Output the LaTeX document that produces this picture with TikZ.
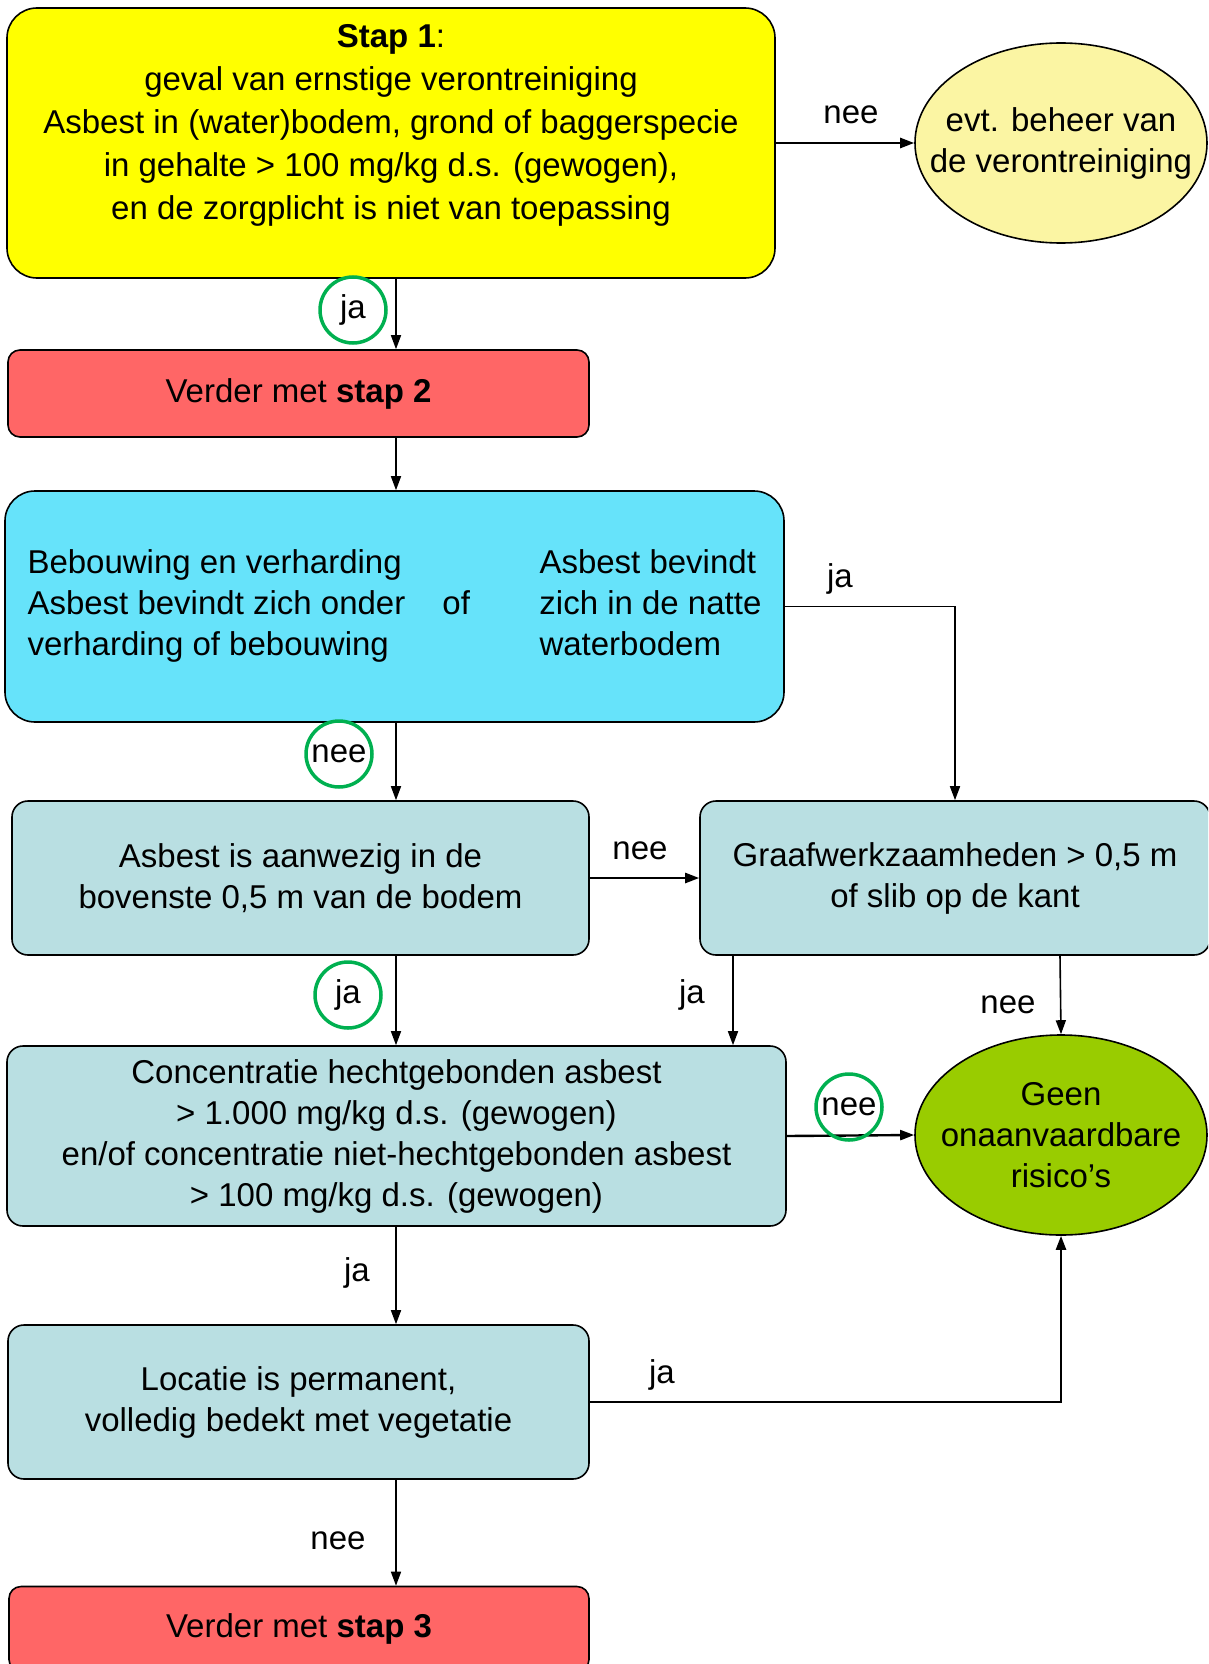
\documentclass[tikz,border=0pt]{standalone}
\usepackage{fontspec}
\setmainfont{Liberation Sans}
\usetikzlibrary{shapes.geometric,arrows.meta}
\definecolor{stapgeel}{HTML}{FFFF00}
\definecolor{beheergeel}{HTML}{FBF5A3}
\definecolor{staprood}{HTML}{FF6666}
\definecolor{bebouwblauw}{HTML}{66E3FA}
\definecolor{vraagblauw}{HTML}{B9DFE2}
\definecolor{geengroen}{HTML}{99CC00}
\definecolor{ringgroen}{HTML}{00B050}

\begin{document}
\begin{tikzpicture}[x=1pt, y=-1pt,
    every node/.style={font=\fontsize{33}{41}\selectfont},
    box/.style={draw, line width=1.6pt, rounded corners=16pt, align=center, inner sep=0pt},
    ovaal/.style={draw, ellipse, line width=1.6pt, inner sep=0pt, minimum width=292pt, minimum height=200pt},
    ring/.style={draw=ringgroen, circle, line width=3.5pt, minimum size=66pt, inner sep=0pt},
    pijl/.style={line width=1.6pt, -{Triangle[length=14pt,width=10pt]}},
    ]
    \clip (0,0) rectangle (1208,1664);

    % Stap 1 en beheer
    \node[box, fill=stapgeel, rounded corners=30pt, minimum width=768pt, minimum height=270pt,
        font=\fontsize{33}{43}\selectfont] (stap1) at (391,143)
        {\textbf{Stap 1}:\\geval van ernstige verontreiniging\\Asbest in (water)bodem, grond of baggerspecie\\in gehalte > 100 mg/kg d.s. (gewogen),\\en de zorgplicht is niet van toepassing\\~};
    \node[ovaal, fill=beheergeel, label={[align=center]center:evt. beheer van\\de verontreiniging}] (beheer) at (1061,143) {};

    \node[box, fill=staprood, rounded corners=12pt, minimum width=581pt, minimum height=87pt] (stap2) at (298.5,393.5) {Verder met \textbf{stap 2}};

    % Vragen
    \node[box, fill=bebouwblauw, rounded corners=30pt, minimum width=779pt, minimum height=231pt] (bebouw) at (394.5,606.5) {%
        \begin{tabular}{@{}p{415pt}@{}p{97pt}@{}l@{}}
        Bebouwing en verharding & & Asbest bevindt\\
        Asbest bevindt zich onder & of & zich in de natte\\
        verharding of bebouwing & & waterbodem
        \end{tabular}};
    \node[box, fill=vraagblauw, minimum width=577pt, minimum height=154pt] (bovenste) at (300.5,878) {Asbest is aanwezig in de\\bovenste 0,5 m van de bodem};
    \node[box, fill=vraagblauw, minimum width=510pt, minimum height=154pt] (graaf) at (955,878) {Graafwerkzaamheden > 0,5 m\\of slib op de kant};
    \node[box, fill=vraagblauw, minimum width=779pt, minimum height=180pt] (conc) at (396.5,1136) {Concentratie hechtgebonden asbest\\> 1.000 mg/kg d.s. (gewogen)\\en/of concentratie niet-hechtgebonden asbest\\> 100 mg/kg d.s. (gewogen)};
    \node[ovaal, fill=geengroen, label={[align=center]center:Geen\\onaanvaardbare\\risico’s}] (geen) at (1061,1135) {};
    \node[box, fill=vraagblauw, minimum width=581pt, minimum height=154pt] (locatie) at (298.5,1402) {Locatie is permanent,\\volledig bedekt met vegetatie};

    \node[box, fill=staprood, rounded corners=12pt, minimum width=580pt, minimum height=85pt] (stap3) at (299,1629) {Verder met \textbf{stap 3}};

    % Verbindingen
    \coordinate (spil) at (396,0);
    \coordinate (graafja) at (733,0);
    \coordinate (graafnee) at (1060,0);
    \draw[pijl, line width=2.4pt] (stap1.east) -- (beheer.west);
    \draw[pijl] (stap1.south -| spil) -- (stap2.north -| spil);
    \draw[pijl] (stap2.south -| spil) -- (bebouw.north -| spil);
    \draw[pijl] (bebouw.east) -| (graaf.north);
    \draw[pijl] (bebouw.south -| spil) -- (bovenste.north -| spil);
    \draw[pijl, line width=2.4pt] (bovenste.east) -- (graaf.west);
    \draw[pijl] (bovenste.south -| spil) -- (conc.north -| spil);
    \draw[pijl] (graaf.south -| graafja) -- (conc.north -| graafja);
    \draw[pijl] (graaf.south -| graafnee) -- (geen.north);
    \draw[pijl, line width=2.4pt] (conc.east) -- (geen.west);
    \draw[pijl] (conc.south -| spil) -- (locatie.north -| spil);
    \draw[pijl, line width=2.4pt] (locatie.east) -| (geen.south);
    \draw[pijl] (locatie.south -| spil) -- (stap3.north -| spil);

    % Labels
    \node (neeA) at (851,115) {nee};
    \node[ring] (jaA) at (353,310) {ja};
    \node (jaB) at (840,579) {ja};
    \node[ring] (neeB) at (339,754) {nee};
    \node (neeC) at (640,851) {nee};
    \node[ring] (jaC) at (348,995) {ja};
    \node (jaD) at (692,995) {ja};
    \node (neeD) at (1008,1005) {nee};
    \node[ring] (neeE) at (849,1107) {nee};
    \node (jaE) at (357,1273) {ja};
    \node (jaF) at (662,1375) {ja};
    \node (neeF) at (338,1541) {nee};
\end{tikzpicture}
\end{document}
